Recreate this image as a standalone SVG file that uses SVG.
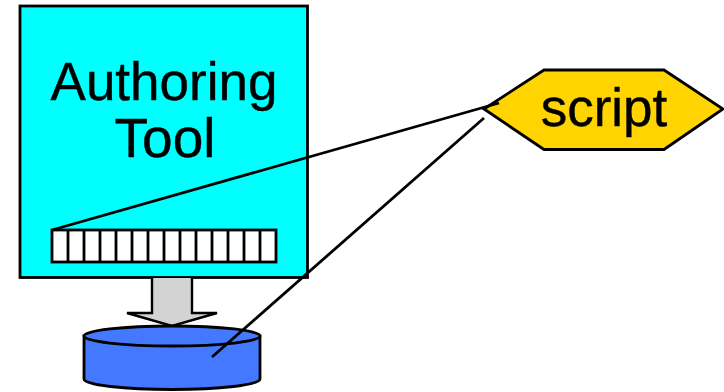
<svg xmlns="http://www.w3.org/2000/svg" width="724" height="392" viewBox="0 0 724 392">
<style>
.s{stroke:#000;stroke-width:2.8;stroke-linejoin:miter}
.t{font-family:"Liberation Sans",Arial,sans-serif;font-size:53px;fill:#000;stroke:#000;stroke-width:.4;text-anchor:middle}
.c{fill:none;stroke:#000;stroke-width:2.8}
</style>
<rect width="724" height="392" fill="#fff"/>
<g id="authoring-tool">
<rect class="s" x="20" y="6" width="287.500" height="271.500" fill="#00ffff"/>
<text class="t" x="164" y="100">Authoring</text>
<text class="t" x="165" y="157" style="font-size:55px">Tool</text>
<rect class="s" x="52" y="230" width="224" height="32" fill="#fff"/>
<path class="c" d="M68 230V262M84 230V262M100 230V262M116 230V262M132 230V262M148 230V262M164 230V262M180 230V262M196 230V262M212 230V262M228 230V262M244 230V262M260 230V262"/>
</g>
<g id="export-arrow">
<path d="M152 278V313H127L172 326L217 313H192V278" fill="#d3d3d3" stroke="#000" stroke-width="2.4"/>
</g>
<g id="database">
<path class="s" d="M84 336V379C84 385 125 389.500 172 389.500C219 389.500 260 385 260 379V336Z" fill="#4479ff"/>
<ellipse class="s" cx="172" cy="336" rx="88" ry="10" fill="#4479ff"/>
</g>
<g id="script">
<polygon class="s" points="484,109 544,70 664,70 723,109 664,149.500 544,149.500" fill="#ffd400"/>
<text class="t" x="604" y="126" style="font-size:53px">script</text>
</g>
<g id="connectors">
<path class="c" d="M52 230L499 103"/>
<path class="c" d="M484 118L212 357"/>
</g>
</svg>
